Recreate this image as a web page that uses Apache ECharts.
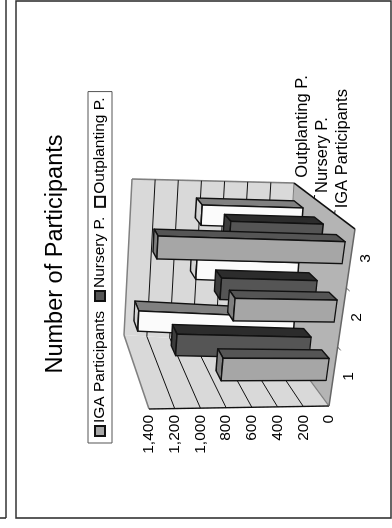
<!DOCTYPE html>
<html>
<head>
<meta charset="utf-8">
<style>
  html, body { margin: 0; padding: 0; background: #fff; overflow: hidden; }
  /* The slide is laid out landscape and turned a quarter turn, so it reads bottom to top. */
  #chart { position: absolute; left: 0; top: 0; width: 528px; height: 392px;
           transform-origin: 0 0; transform: translate(0, 528px) rotate(-90deg); }
</style>
<script src="https://cdn.jsdelivr.net/npm/echarts@6/dist/echarts.min.js"></script>
</head>
<body>
<div id="chart"></div>
<script>
const categories = ['1', '2', '3'];
const seriesNames = ['IGA Participants', 'Nursery P.', 'Outplanting P.'];
const igaValues = [820, 767, 1370];
const nurseryValues = [1089, 762, 723];
const outplantingValues = [1326, 859, 842];
const valueTicks = [200, 400, 600, 800, 1000, 1200];

// Projected corners of the plot box, indexed [value end][category end][depth end].
const BOX = [
  [[[122, 329], [183, 284]], [[299, 355], [345, 294]]],
  [[[119, 149], [193, 124]], [[306, 158], [349, 132]]]
];
const FONT = 'Liberation Sans';
const BAR_HALF = 0.0625;   // half bar width, as a share of the category run
const BAR_DEPTH = 0.15;
const SLOT_FRONT = [0.12, 0.49, 0.83];

function mix(a, b, t) { return [a[0] + (b[0] - a[0]) * t, a[1] + (b[1] - a[1]) * t]; }

// v, c, d are all 0..1 along the value, category and depth directions.
function project(v, c, d) {
  const at = i => mix(mix(BOX[i][0][0], BOX[i][0][1], d), mix(BOX[i][1][0], BOX[i][1][1], d), c);
  return mix(at(0), at(1), v);
}

// Reads a datum through the hidden cartesian axes and returns box fractions.
function toBox(params, api, catIndex, value) {
  const p = api.coord([catIndex, value]);
  const cs = params.coordSys;
  return { c: (p[0] - cs.x) / cs.width, v: (cs.y + cs.height - p[1]) / cs.height };
}

function face(points, fill, lineWidth) {
  return {
    type: 'polygon',
    shape: { points },
    style: { fill, stroke: '#111', lineWidth: lineWidth || 1.4, lineJoin: 'round' }
  };
}

function barRenderer(slot, colors) {
  return function (params, api) {
    const top = toBox(params, api, api.value(0), api.value(1));
    const c0 = top.c - BAR_HALF, c1 = top.c + BAR_HALF;
    const d0 = SLOT_FRONT[slot], d1 = d0 + BAR_DEPTH;
    const v = top.v;
    return {
      type: 'group',
      children: [
        face([project(0, c1, d0), project(0, c1, d1), project(v, c1, d1), project(v, c1, d0)], colors.side),
        face([project(v, c0, d0), project(v, c1, d0), project(v, c1, d1), project(v, c0, d1)], colors.cap),
        face([project(0, c0, d0), project(0, c1, d0), project(v, c1, d0), project(v, c0, d0)], colors.front)
      ]
    };
  };
}

function line(a, b, stroke, lineWidth) {
  return { type: 'line', shape: { x1: a[0], y1: a[1], x2: b[0], y2: b[1] }, style: { stroke, lineWidth } };
}

function renderWalls() {
  const wall = '#d9d9d9', floor = '#b4b4b4', edge = '#808080';
  const children = [
    { type: 'polygon', shape: { points: [project(0, 0, 1), project(0, 1, 1), project(1, 1, 1), project(1, 0, 1)] }, style: { fill: wall } },
    { type: 'polygon', shape: { points: [project(0, 0, 0), project(0, 0, 1), project(1, 0, 1), project(1, 0, 0)] }, style: { fill: wall } },
    { type: 'polygon', shape: { points: [project(0, 0, 0), project(0, 1, 0), project(0, 1, 1), project(0, 0, 1)] }, style: { fill: floor } },
    line(project(1, 0, 0), project(1, 0, 1), edge, 1.6),
    line(project(1, 0, 1), project(1, 1, 1), edge, 1.6),
    line(project(1, 1, 1), project(0, 1, 1), edge, 1.6),
    line(project(0, 0, 0), project(0, 0, 1), edge, 1.2),
    line(project(0, 0, 1), project(0, 1, 1), edge, 1.2),
    line(project(1, 0, 0), project(0, 0, 0), '#111', 1.4),
    line(project(0, 0, 0), project(0, 1, 0), '#666', 1.4),
    line(project(0, 1, 0), project(0, 1, 1), '#111', 1.6)
  ];
  [1 / 3, 2 / 3].forEach(t => {
    children.push(line(project(0, t, 0), project(0, t, -0.06), '#555', 1));
    children.push(line(project(0, 1, t), project(0, 1.02, t), '#111', 1));
  });
  return { type: 'group', children };
}

function renderGridline(params, api) {
  const v = toBox(params, api, 0, api.value(1)).v;
  return {
    type: 'group',
    children: [
      line(project(v, 0, 0), project(v, 0, 1), '#111', 1),
      line(project(v, 0, 1), project(v, 1, 1), '#111', 1)
    ]
  };
}

function renderCategoryLabel(params, api) {
  const c = toBox(params, api, api.value(0), 0).c;
  const p = project(0, c, 0);
  return {
    type: 'text',
    style: { x: p[0], y: p[1] + 15, text: categories[api.value(0)], fill: '#000',
             font: '15.5px "' + FONT + '"', textAlign: 'center', textVerticalAlign: 'middle' }
  };
}

function renderDepthLabel(params, api) {
  const i = params.dataIndex;
  const p = project(0, 1, (i + 0.5) / 3);
  return {
    type: 'text',
    style: { x: p[0] + 13, y: p[1] - 2, text: seriesNames[i], fill: '#000',
             font: '16.5px "' + FONT + '"', textAlign: 'left', textVerticalAlign: 'middle' }
  };
}

function barSeries(name, values, slot, colors) {
  return {
    name,
    type: 'custom',
    coordinateSystem: 'cartesian2d',
    renderItem: barRenderer(slot, colors),
    encode: { x: 0, y: 1 },
    itemStyle: { color: colors.front, borderColor: '#111', borderWidth: 1 },
    data: values.map((v, i) => [i, v])
  };
}

const chart = echarts.init(document.getElementById('chart'), null, { renderer: 'canvas' });
chart.setOption({
  animation: false,
  backgroundColor: '#fff',
  title: {
    text: 'Number of Participants',
    left: 269,
    top: 39,
    textAlign: 'center',
    textStyle: { fontFamily: FONT, fontSize: 23.5, fontWeight: 'normal', color: '#000' }
  },
  legend: {
    data: seriesNames,
    left: 85,
    top: 88,
    orient: 'horizontal',
    icon: 'rect',
    itemWidth: 10,
    itemHeight: 10,
    itemGap: 9,
    padding: [4, 6],
    borderColor: '#555',
    borderWidth: 1,
    textStyle: { fontFamily: FONT, fontSize: 15.5, color: '#000', padding: [0, 0, 0, -2] }
  },
  grid: { left: 120, width: 180, top: 149, height: 180 },
  xAxis: {
    type: 'category',
    data: categories,
    axisLine: { show: false },
    axisTick: { show: false },
    axisLabel: { show: false }
  },
  yAxis: {
    type: 'value',
    min: 0,
    max: 1400,
    interval: 200,
    axisLine: { show: false },
    axisTick: { show: false },
    splitLine: { show: false },
    axisLabel: { margin: 7, fontFamily: FONT, fontSize: 15.5, color: '#000' }
  },
  graphic: [
    { type: 'rect', shape: { x: 10, y: 16, width: 517, height: 375 }, style: { fill: 'none', stroke: '#333', lineWidth: 1.6 }, silent: true },
    { type: 'line', shape: { x1: 10, y1: 6, x2: 528, y2: 6 }, style: { stroke: '#333', lineWidth: 1.6 }, silent: true },
    { type: 'line', shape: { x1: 10, y1: 0, x2: 10, y2: 6 }, style: { stroke: '#333', lineWidth: 1.6 }, silent: true }
  ],
  series: [
    { type: 'custom', renderItem: renderWalls, data: [[0, 0]], silent: true },
    { type: 'custom', renderItem: renderGridline, data: valueTicks.map(v => [0, v]), encode: { x: 0, y: 1 }, silent: true },
    barSeries(seriesNames[2], outplantingValues, 2, { front: '#fbfbfb', side: '#808080', cap: '#d4d4d4' }),
    barSeries(seriesNames[1], nurseryValues, 1, { front: '#555555', side: '#2c2c2c', cap: '#3c3c3c' }),
    barSeries(seriesNames[0], igaValues, 0, { front: '#a6a6a6', side: '#555555', cap: '#7f7f7f' }),
    { type: 'custom', renderItem: renderCategoryLabel, data: categories.map((_, i) => [i, 0]), silent: true },
    { type: 'custom', renderItem: renderDepthLabel, data: seriesNames.map((_, i) => [i, 0]), silent: true }
  ]
});
</script>
</body>
</html>
